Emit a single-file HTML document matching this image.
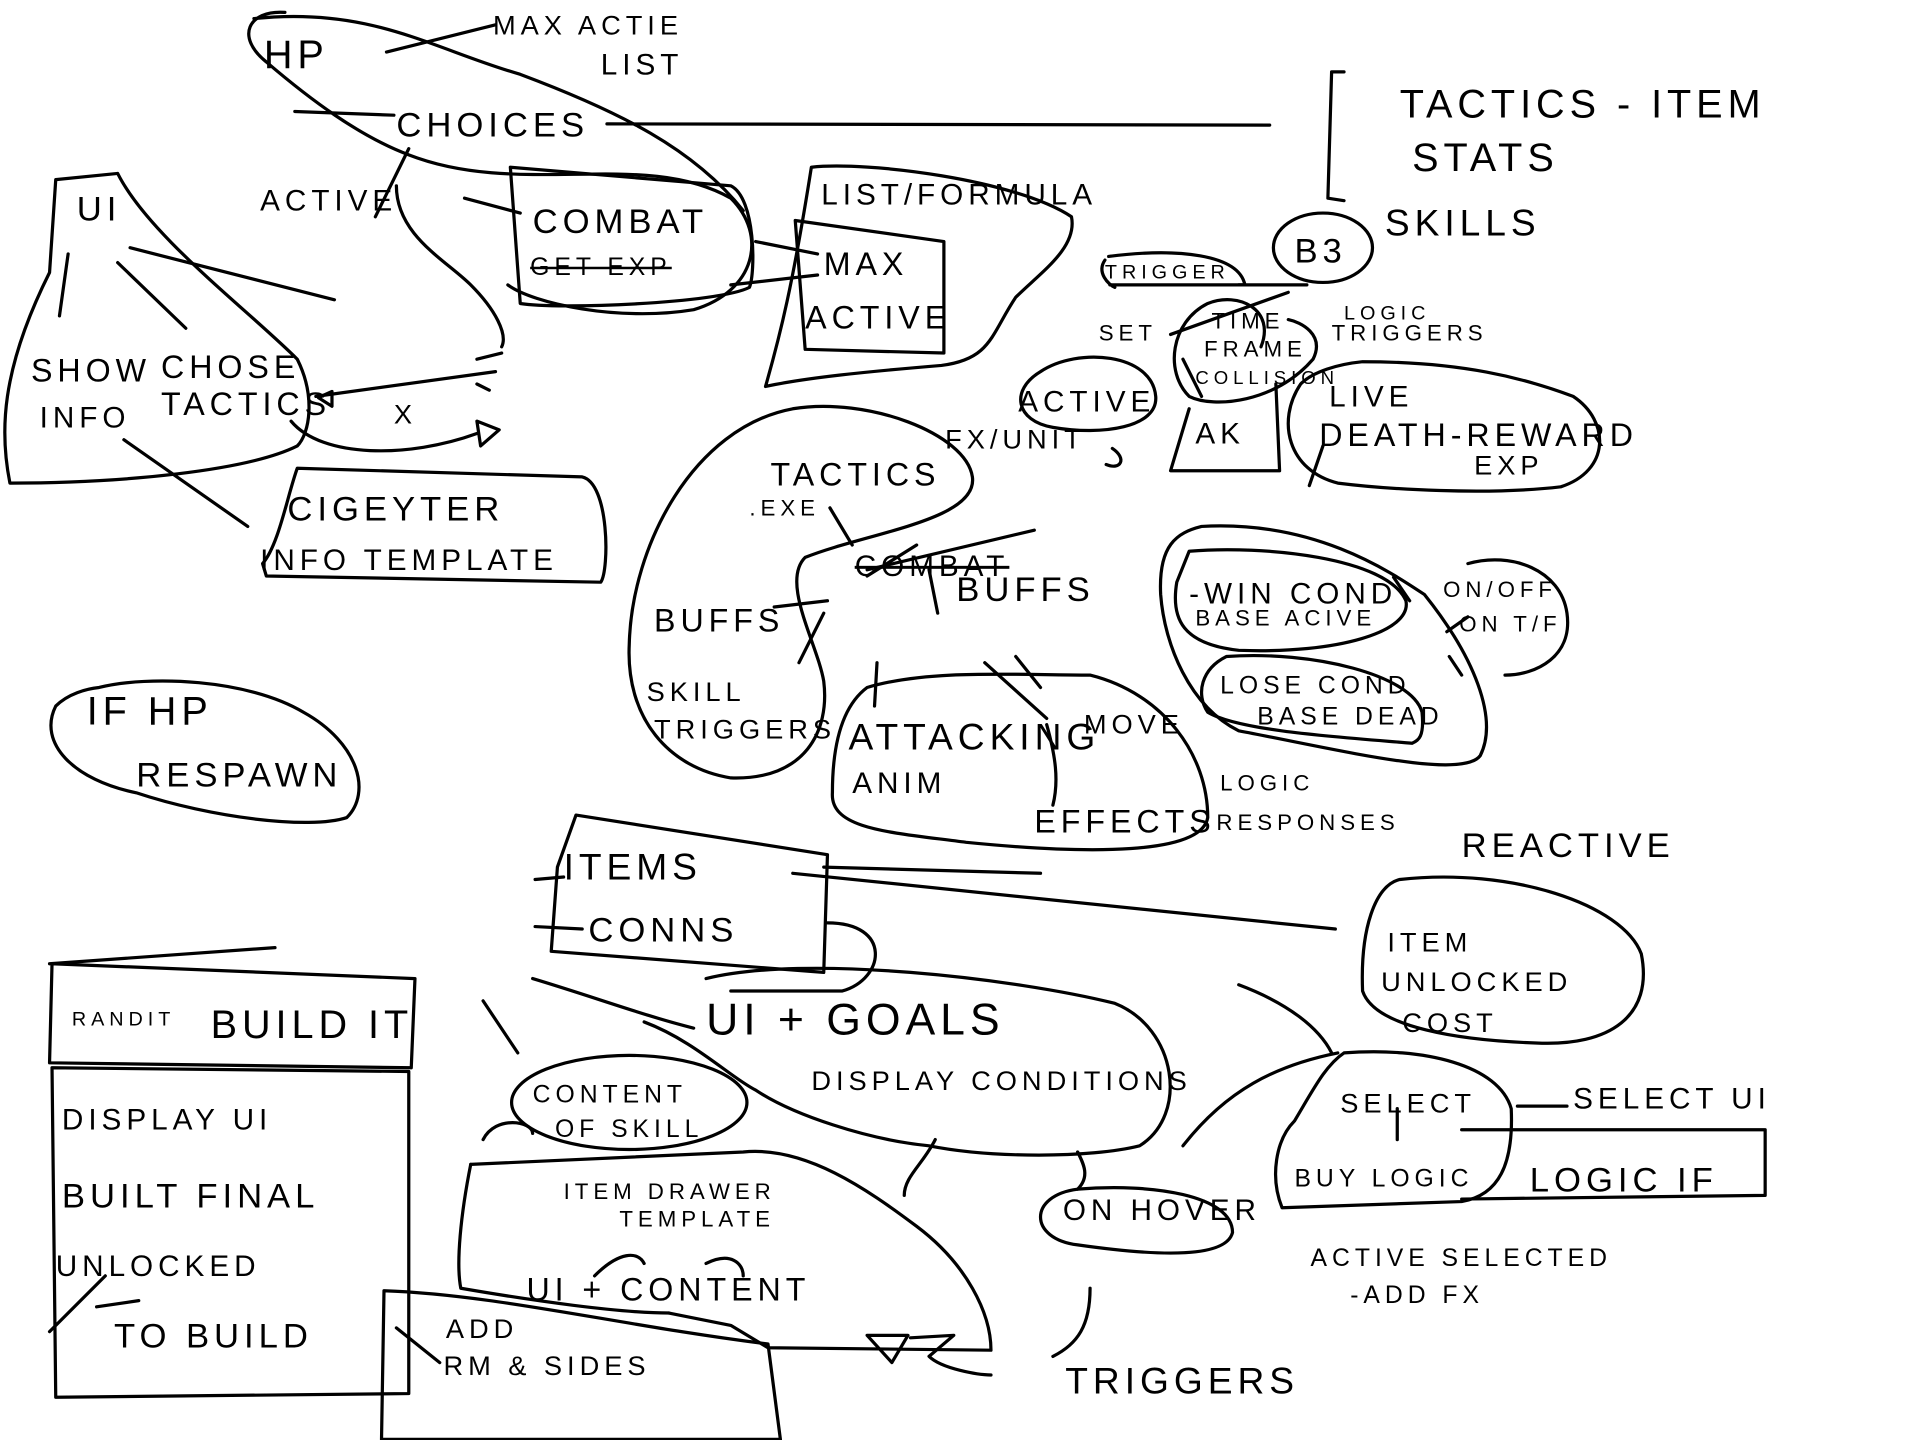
<!DOCTYPE html>
<html><head><meta charset="utf-8"><style>
html,body{margin:0;padding:0;background:#fff;width:1920px;height:1440px;overflow:hidden}
svg{display:block}
text{font-family:"Liberation Sans",sans-serif;fill:#000;letter-spacing:4px}
</style></head><body>
<svg width="1920" height="1440" viewBox="0 0 1550 1162.5" xmlns="http://www.w3.org/2000/svg">
<g fill="none" stroke="#000" stroke-width="2.6" stroke-linecap="round" stroke-linejoin="round">
<!-- HP / choices blob -->
<path d="M230,10 C200,8 190,30 215,50 C250,80 290,110 330,125 C420,160 520,120 590,160 C620,190 610,235 560,250 C500,260 430,245 410,230"/>
<path d="M205,15 C300,5 350,40 420,60 C500,90 560,120 600,170"/>
<path d="M320,150 C320,190 360,210 380,230 C400,250 410,270 405,280"/>
<line x1="312" y1="42" x2="400" y2="20"/>
<line x1="238" y1="90" x2="318" y2="93"/>
<line x1="490" y1="100" x2="1025" y2="101"/>
<line x1="303" y1="175" x2="330" y2="120"/>
<line x1="375" y1="160" x2="420" y2="172"/>
<!-- combat box -->
<path d="M412,135 L590,150 C610,160 610,220 605,232 C580,245 450,250 420,245 Z"/>
<line x1="610" y1="195" x2="660" y2="205"/>
<line x1="590" y1="230" x2="660" y2="222"/>
<!-- list formula blob -->
<path d="M655,135 C700,130 820,145 865,175 C870,200 840,220 820,240 C800,270 800,290 760,295 C700,300 650,305 618,312 C630,270 640,230 655,135 Z"/>
<path d="M642,178 L762,195 L762,285 L650,282 Z"/>
<!-- UI triangle -->
<path d="M45,145 L95,140 C120,190 200,250 240,290 C255,320 250,350 240,360 C200,380 100,390 8,390 C0,350 0,300 40,220 Z"/>
<line x1="105" y1="200" x2="270" y2="242"/>
<line x1="95" y1="212" x2="150" y2="265"/>
<line x1="55" y1="205" x2="48" y2="255"/>
<line x1="100" y1="355" x2="200" y2="425"/>
<path d="M235,340 C260,370 330,370 385,350"/>
<path d="M255,320 L400,300 M385,290 L405,285"/>
<path d="M268,316 L257,321 L268,328 Z"/>
<path d="M385,340 L403,347 L388,360 Z"/>
<path d="M385,310 L395,315"/>
<!-- character info template -->
<path d="M240,378 L470,385 C492,390 492,460 485,470 L215,465 L212,455 C225,440 232,400 240,378 Z"/>
<!-- respawn -->
<path d="M80,555 C120,545 200,548 245,575 C290,600 300,640 280,660 C250,670 170,660 110,640 C60,630 30,600 45,570 C55,560 70,556 80,555 Z"/>
<!-- tactics blob -->
<path d="M640,330 C700,320 780,350 785,385 C790,420 700,430 650,450 C630,470 660,520 665,550 C670,590 650,630 590,628 C540,620 505,580 508,520 C510,440 560,345 640,330 Z"/>
<line x1="670" y1="410" x2="688" y2="440"/>
<line x1="625" y1="490" x2="668" y2="485"/>
<line x1="645" y1="535" x2="665" y2="495"/>
<line x1="700" y1="465" x2="740" y2="440"/>
<line x1="750" y1="460" x2="757" y2="495"/>
<line x1="700" y1="460" x2="835" y2="428"/>
<!-- attacking anim -->
<path d="M700,555 C750,540 820,545 880,545 C940,560 975,610 975,660 C970,690 880,690 780,680 C720,672 670,670 672,640 C672,600 680,570 700,555 Z"/>
<line x1="708" y1="535" x2="706" y2="570"/>
<line x1="795" y1="535" x2="845" y2="580"/>
<line x1="820" y1="530" x2="840" y2="555"/>
<path d="M845,585 C852,610 855,630 850,650"/>
<!-- trigger area -->
<path d="M895,207 C950,200 1000,205 1005,230 L1000,230"/>
<path d="M892,210 C885,220 895,230 900,232"/>
<line x1="896" y1="230" x2="1055" y2="230"/>
<path d="M1018,280 C1030,250 1000,235 975,245 C945,260 940,300 960,320 C980,330 1030,325 1060,290 C1070,270 1050,260 1040,258"/>
<path d="M945,270 L1040,236"/>
<line x1="955" y1="290" x2="970" y2="320"/>
<path d="M960,330 L945,380 L1033,380 L1030,310"/>
<!-- active ellipse -->
<path d="M840,300 C870,280 930,285 933,320 C935,345 890,352 850,345 C820,340 815,315 840,300 Z"/>
<path d="M898,362 C910,370 905,380 893,375"/>
<!-- B3 -->
<ellipse cx="1068" cy="200" rx="40" ry="28"/>
<!-- live death -->
<path d="M1100,292 C1180,292 1230,305 1270,320 C1300,340 1300,380 1260,393 C1200,400 1120,395 1080,390 C1040,380 1030,340 1050,310 C1060,300 1080,294 1100,292 Z"/>
<line x1="1068" y1="360" x2="1057" y2="392"/>
<!-- win lose -->
<path d="M970,425 C1060,420 1120,460 1150,480 C1190,530 1210,580 1195,610 C1180,630 1080,605 1000,590 C960,570 940,520 937,480 C935,440 950,430 970,425 Z"/>
<path d="M960,445 C1020,440 1120,450 1135,485 C1140,510 1080,528 1000,525 C955,520 945,500 950,470 Z"/>
<path d="M990,530 C1060,525 1140,545 1148,575 C1150,595 1145,598 1140,600 C1080,595 1000,590 975,575 C965,560 970,540 990,530 Z"/>
<path d="M1185,455 C1220,445 1260,460 1265,495 C1270,530 1240,545 1215,545"/>
<line x1="1125" y1="466" x2="1138" y2="485"/>
<line x1="1168" y1="510" x2="1185" y2="498"/>
<line x1="1170" y1="530" x2="1180" y2="545"/>
<!-- bracket -->
<path d="M1085,58 L1075,58 L1072,160 L1085,162"/>
<!-- items box -->
<path d="M465,658 L668,690 L665,785 L445,768 L450,700 Z"/>
<line x1="432" y1="710" x2="455" y2="708"/>
<line x1="432" y1="748" x2="470" y2="750"/>
<path d="M668,745 C720,745 715,790 680,800 L590,800"/>
<line x1="640" y1="705" x2="1078" y2="750"/>
<line x1="665" y1="700" x2="840" y2="705"/>
<!-- unlock blob -->
<path d="M1130,710 C1220,700 1310,730 1325,770 C1335,820 1300,845 1240,842 C1180,840 1110,830 1100,800 C1098,750 1110,715 1130,710 Z"/>
<path d="M1000,795 C1040,810 1065,830 1075,850"/>
<!-- ui goals -->
<path d="M570,790 C650,770 820,790 900,810 C950,830 960,900 920,925 C880,935 800,935 750,925 C700,920 640,900 610,880 C590,870 560,840 520,825"/>
<path d="M430,790 C480,805 520,820 560,830"/>
<line x1="390" y1="808" x2="418" y2="850"/>
<line x1="40" y1="778" x2="222" y2="765"/>
<!-- content of skill -->
<ellipse cx="508" cy="890" rx="95" ry="38"/>
<!-- item drawer blob -->
<path d="M390,920 C400,900 430,905 430,915 M380,940 L600,930 C650,925 700,960 740,990 C780,1020 800,1060 800,1090 L620,1088 L590,1070 L540,1060"/>
<path d="M380,940 C372,980 368,1020 372,1040 C430,1050 500,1060 540,1060"/>
<path d="M755,920 C745,940 730,950 730,965"/>
<path d="M870,930 C875,940 880,950 870,960"/>
<path d="M480,1030 C500,1010 515,1010 520,1020"/>
<path d="M570,1020 C590,1010 600,1020 600,1030"/>
<path d="M700,1078 L720,1100 L733,1078 Z"/>
<path d="M735,1080 L770,1078 L750,1095 C760,1105 790,1110 800,1110"/>
<!-- add rm box -->
<path d="M310,1042 C400,1045 500,1070 620,1085 L630,1162 L308,1162 Z"/>
<line x1="320" y1="1072" x2="355" y2="1100"/>
<!-- build it -->
<path d="M42,778 L335,790 L332,862 L40,858 Z"/>
<path d="M42,862 L330,865 L330,1125 L45,1128 Z"/>
<line x1="40" y1="1075" x2="85" y2="1030"/>
<line x1="78" y1="1055" x2="112" y2="1050"/>
<!-- on hover -->
<path d="M870,960 C930,955 995,965 995,995 C990,1015 940,1015 870,1005 C830,1000 830,965 870,960 Z"/>
<path d="M880,1040 C880,1070 870,1085 850,1095"/>
<path d="M955,925 C990,880 1030,860 1080,850"/>
<!-- select -->
<path d="M1085,850 C1150,845 1210,860 1220,895 C1222,940 1210,965 1180,970 L1035,975 C1025,950 1030,920 1045,905 C1060,880 1070,860 1085,850 Z"/>
<path d="M1180,912 L1425,912 L1425,965 L1180,968"/>
<line x1="1128" y1="895" x2="1128" y2="920"/>
<line x1="1225" y1="893" x2="1265" y2="893"/>
</g>
<g font-size="28">
<text x="213" y="55" font-size="32">HP</text>
<text x="398" y="28" font-size="22">MAX ACTIE</text>
<text x="485" y="60" font-size="24">LIST</text>
<text x="320" y="110">CHOICES</text>
<text x="210" y="170" font-size="24">ACTIVE</text>
<text x="430" y="188">COMBAT</text>
<text x="428" y="222" font-size="20" text-decoration="line-through">GET EXP</text>
<text x="663" y="165" font-size="24">LIST/FORMULA</text>
<text x="665" y="222" font-size="26">MAX</text>
<text x="650" y="265" font-size="26">ACTIVE</text>
<text x="1130" y="95" font-size="32">TACTICS - ITEM</text>
<text x="1140" y="138" font-size="32">STATS</text>
<text x="1045" y="212" font-size="28">B3</text>
<text x="1118" y="190" font-size="30">SKILLS</text>
<text x="62" y="178">UI</text>
<text x="25" y="308" font-size="26">SHOW</text>
<text x="32" y="345" font-size="24">INFO</text>
<text x="130" y="305" font-size="26">CHOSE</text>
<text x="130" y="335" font-size="26">TACTICS</text>
<text x="318" y="342" font-size="22">X</text>
<text x="232" y="420" font-size="28">CIGEYTER</text>
<text x="210" y="460" font-size="24">INFO TEMPLATE</text>
<text x="70" y="585" font-size="32">IF HP</text>
<text x="110" y="635" font-size="28">RESPAWN</text>
<text x="892" y="225" font-size="16">TRIGGER</text>
<text x="887" y="275" font-size="18">SET</text>
<text x="978" y="265" font-size="18">TIME</text>
<text x="972" y="288" font-size="18">FRAME</text>
<text x="965" y="310" font-size="15">COLLISION</text>
<text x="965" y="358" font-size="24">AK</text>
<text x="1085" y="258" font-size="16">LOGIC</text>
<text x="1075" y="275" font-size="18">TRIGGERS</text>
<text x="822" y="332" font-size="24">ACTIVE</text>
<text x="763" y="362" font-size="22">FX/UNIT</text>
<text x="1073" y="328" font-size="24">LIVE</text>
<text x="1065" y="360" font-size="26">DEATH-REWARD</text>
<text x="1190" y="383" font-size="22">EXP</text>
<text x="622" y="392" font-size="26">TACTICS</text>
<text x="605" y="416" font-size="18">.EXE</text>
<text x="690" y="465" font-size="24" text-decoration="line-through">COMBAT</text>
<text x="772" y="485" font-size="28">BUFFS</text>
<text x="528" y="510" font-size="26">BUFFS</text>
<text x="522" y="566" font-size="22">SKILL</text>
<text x="528" y="596" font-size="22">TRIGGERS</text>
<text x="685" y="605" font-size="30">ATTACKING</text>
<text x="688" y="640" font-size="24">ANIM</text>
<text x="875" y="592" font-size="22">MOVE</text>
<text x="835" y="672" font-size="26">EFFECTS</text>
<text x="985" y="638" font-size="18">LOGIC</text>
<text x="982" y="670" font-size="18">RESPONSES</text>
<text x="960" y="487" font-size="24">-WIN COND</text>
<text x="965" y="505" font-size="18">BASE ACIVE</text>
<text x="985" y="560" font-size="20">LOSE COND</text>
<text x="1015" y="585" font-size="20">BASE DEAD</text>
<text x="1165" y="482" font-size="18">ON/OFF</text>
<text x="1178" y="510" font-size="18">ON T/F</text>
<text x="455" y="710" font-size="30">ITEMS</text>
<text x="475" y="760" font-size="28">CONNS</text>
<text x="1180" y="692" font-size="28">REACTIVE</text>
<text x="1120" y="768" font-size="22">ITEM</text>
<text x="1115" y="800" font-size="22">UNLOCKED</text>
<text x="1132" y="833" font-size="22">COST</text>
<text x="570" y="835" font-size="36">UI + GOALS</text>
<text x="655" y="880" font-size="22">DISPLAY CONDITIONS</text>
<text x="58" y="828" font-size="16">RANDIT</text>
<text x="170" y="838" font-size="32">BUILD IT</text>
<text x="50" y="912" font-size="24">DISPLAY UI</text>
<text x="50" y="975" font-size="28">BUILT FINAL</text>
<text x="45" y="1030" font-size="24">UNLOCKED</text>
<text x="92" y="1088" font-size="28">TO BUILD</text>
<text x="430" y="890" font-size="20">CONTENT</text>
<text x="448" y="918" font-size="20">OF SKILL</text>
<text x="455" y="968" font-size="18">ITEM DRAWER</text>
<text x="500" y="990" font-size="18">TEMPLATE</text>
<text x="425" y="1050" font-size="26">UI  +  CONTENT</text>
<text x="360" y="1080" font-size="22">ADD</text>
<text x="358" y="1110" font-size="22">RM  &amp;  SIDES</text>
<text x="858" y="985" font-size="24">ON HOVER</text>
<text x="860" y="1125" font-size="30">TRIGGERS</text>
<text x="1082" y="898" font-size="22">SELECT</text>
<text x="1270" y="895" font-size="24">SELECT UI</text>
<text x="1045" y="958" font-size="20">BUY LOGIC</text>
<text x="1235" y="962" font-size="28">LOGIC IF</text>
<text x="1058" y="1022" font-size="20">ACTIVE SELECTED</text>
<text x="1090" y="1052" font-size="20">-ADD FX</text>
</g>
</svg>
</body></html>
